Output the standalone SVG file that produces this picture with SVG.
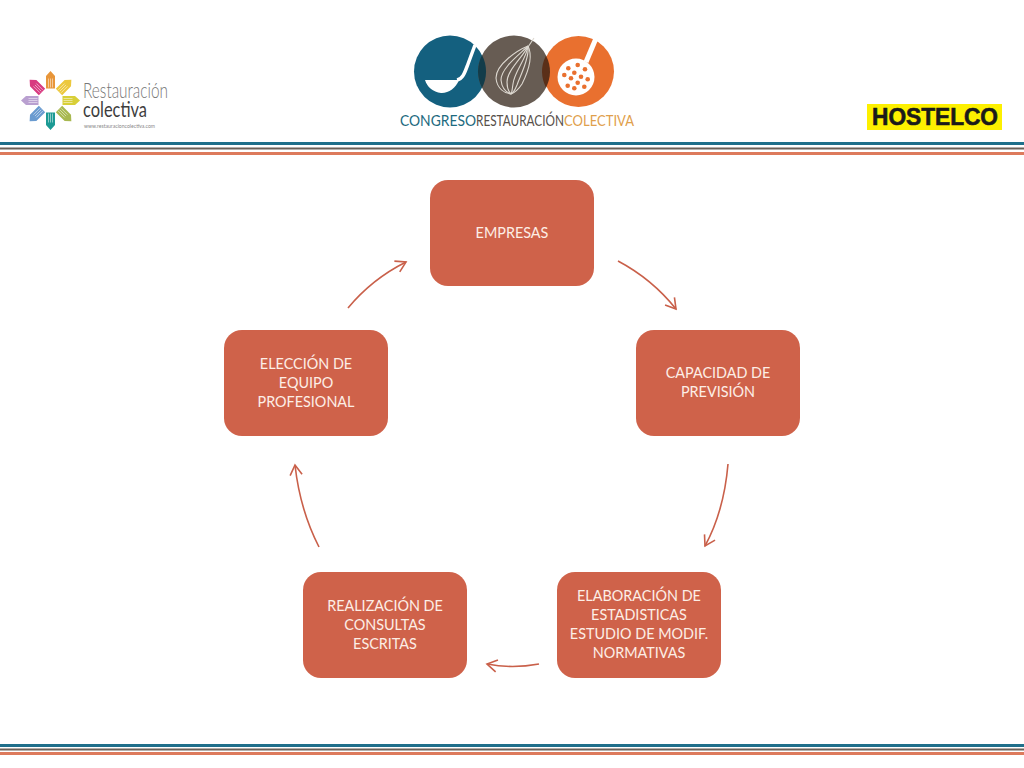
<svg xmlns="http://www.w3.org/2000/svg" width="1024" height="768" viewBox="0 0 1024 768">
<style>
.n{fill:#cf624a}
.t{font-family:"Lato","Open Sans",sans-serif;font-size:14.4px;fill:#fdeee6;text-anchor:middle}
.c{fill:none;stroke:#c9604a;stroke-width:1.6;marker-end:url(#a)}
.l{font-family:"Lato","Liberation Sans",sans-serif}
.w{fill:none;stroke:#ddd8d0;stroke-width:1.1}
</style>
<defs>
<marker id="a" viewBox="0 0 14 14" refX="12" refY="7" markerWidth="14" markerHeight="14" markerUnits="userSpaceOnUse" orient="auto"><path d="M2 1L12 7L2 13" fill="none" stroke="#c9604a" stroke-width="1.6"/></marker>
<g id="p"><path d="M-4.500 -29.500L0 -29.500L4.500 -24.500V-12H-4.500V-24.500L0 -29.500Z"/><path d="M-2 -22V-13M0 -22V-13M2 -22V-13" stroke="#fff" stroke-width=".7" opacity=".7" fill="none"/></g>
</defs>
<rect width="1024" height="768" fill="#fff"/>
<g id="rules">
<rect y="142" width="1024" height="3" fill="#1f6f8b"/><rect y="147.500" width="1024" height="2" fill="#6b6058"/><rect y="152" width="1024" height="3" fill="#dd7a5c"/>
<rect y="744" width="1024" height="3" fill="#1f6f8b"/><rect y="748.500" width="1024" height="2" fill="#6b6058"/><rect y="752" width="1024" height="3" fill="#dd7a5c"/>
</g>
<g id="logo-left">
<g transform="translate(50.500 100.500)">
<use href="#p" fill="#e8963a"/><use href="#p" fill="#ecc83e" transform="rotate(45)"/><use href="#p" fill="#d8cf38" transform="rotate(90)"/><use href="#p" fill="#a8b850" transform="rotate(135)"/><use href="#p" fill="#1c9a94" transform="rotate(180)"/><use href="#p" fill="#6a9bd0" transform="rotate(225)"/><use href="#p" fill="#b9a0d0" transform="rotate(270)"/><use href="#p" fill="#d83a80" transform="rotate(315)"/>
</g>
<text class="l" x="83" y="98" font-size="21" font-weight="300" fill="#777" textLength="85" lengthAdjust="spacingAndGlyphs">Restauración</text>
<text class="l" x="83" y="117" font-size="21" fill="#3d3d3d" textLength="64" lengthAdjust="spacingAndGlyphs">colectiva</text>
<text class="l" x="84" y="127.500" font-size="6" fill="#888" textLength="71" lengthAdjust="spacingAndGlyphs">www.restauracioncolectiva.com</text>
</g>
<g id="logo-center">
<circle cx="450" cy="71.500" r="36" fill="#14607f"/>
<circle cx="514" cy="71.500" r="36" fill="#675c53"/>
<circle cx="578.500" cy="71.500" r="35.500" fill="#e9702f"/>
<path d="M482 55A36 36 0 0 1 482 88A36 36 0 0 1 482 55Z" fill="#123c4a"/>
<path d="M546 55.500A36 36 0 0 1 546 87.500A36 36 0 0 1 546 55.500Z" fill="#5a2f18"/>
<path d="M425 80H459C456 88 448 93.500 441 93C433 92 427 87 425 80Z" fill="#fff"/>
<path d="M457 80C463 79 465 72 468 64L475 45" fill="none" stroke="#fff" stroke-width="3.500"/>
<path class="w" d="M534 38L526 50"/>
<path class="w" d="M528 46C518 50 496 64 496 78C497 89 505 93 511 94"/>
<path class="w" d="M528 46C520 54 501 68 501 80C502 90 508 93 511 94"/>
<path class="w" d="M528 46C524 56 507 70 507 82C507 90 510 93 511 94"/>
<path class="w" d="M528 46C527 58 514 72 513 84C512 90 512 93 511 94"/>
<path class="w" d="M528 46C530 58 520 76 517 85C515 90 513 93 511 94"/>
<path class="w" d="M528 46C534 58 527 74 522 84C518 90 514 93 511 94"/>
<circle cx="576" cy="77" r="18.500" fill="#fff"/>
<path d="M586 62L597 36" stroke="#fff" stroke-width="5" fill="none"/>
<g fill="#e9702f">
<circle cx="568.300" cy="68.300" r="2.300"/><circle cx="577.700" cy="65" r="2.300"/><circle cx="585" cy="69.300" r="2.300"/><circle cx="574.300" cy="72.700" r="2.300"/><circle cx="564.300" cy="75" r="2.300"/><circle cx="571" cy="78.300" r="2.300"/><circle cx="581" cy="76.700" r="2.300"/><circle cx="587.700" cy="79.300" r="2.300"/><circle cx="577.700" cy="82.700" r="2.300"/><circle cx="567.700" cy="85.700" r="2.300"/><circle cx="574.300" cy="88.300" r="2.300"/><circle cx="584.300" cy="86.700" r="2.300"/>
</g>
<text class="l" x="400" y="125.500" font-size="15.500" fill="#1d6a80" textLength="76" lengthAdjust="spacingAndGlyphs">CONGRESO</text>
<text class="l" x="476" y="125.500" font-size="15.500" fill="#57504a" textLength="88" lengthAdjust="spacingAndGlyphs">RESTAURACIÓN</text>
<text class="l" x="564" y="125.500" font-size="15.500" fill="#dfa04c" textLength="70" lengthAdjust="spacingAndGlyphs">COLECTIVA</text>
</g>
<g id="logo-hostelco">
<rect x="867" y="104" width="135" height="26" fill="#fdf000"/>
<text x="872" y="124.500" font-family="'Liberation Sans',sans-serif" font-size="23" font-weight="bold" fill="#1a1a1a" stroke="#1a1a1a" stroke-width=".6" textLength="126" lengthAdjust="spacingAndGlyphs">HOSTELCO</text>
</g>
<g id="connectors">
<path class="c" d="M618 261Q652 279 676 309"/>
<path class="c" d="M728 464Q724 511 705 546"/>
<path class="c" d="M539 664Q512 669 487 664"/>
<path class="c" d="M319 547Q300 510 295 465"/>
<path class="c" d="M348 308Q372 279 406 262"/>
</g>
<g id="empresas"><rect class="n" x="430" y="180" width="164" height="106" rx="18"/><text class="t" x="512" y="238">EMPRESAS</text></g>
<g id="capacidad"><rect class="n" x="636" y="330" width="164" height="106" rx="18"/><text class="t" x="718" y="378">CAPACIDAD DE</text><text class="t" x="718" y="397">PREVISIÓN</text></g>
<g id="elaboracion"><rect class="n" x="557" y="572" width="164" height="106" rx="18"/><text class="t" x="639" y="601">ELABORACIÓN DE</text><text class="t" x="639" y="620">ESTADISTICAS</text><text class="t" x="639" y="639">ESTUDIO DE MODIF.</text><text class="t" x="639" y="658">NORMATIVAS</text></g>
<g id="realizacion"><rect class="n" x="303" y="572" width="164" height="106" rx="18"/><text class="t" x="385" y="611">REALIZACIÓN DE</text><text class="t" x="385" y="630">CONSULTAS</text><text class="t" x="385" y="649">ESCRITAS</text></g>
<g id="eleccion"><rect class="n" x="224" y="330" width="164" height="106" rx="18"/><text class="t" x="306" y="369">ELECCIÓN DE</text><text class="t" x="306" y="388">EQUIPO</text><text class="t" x="306" y="407">PROFESIONAL</text></g>
</svg>
